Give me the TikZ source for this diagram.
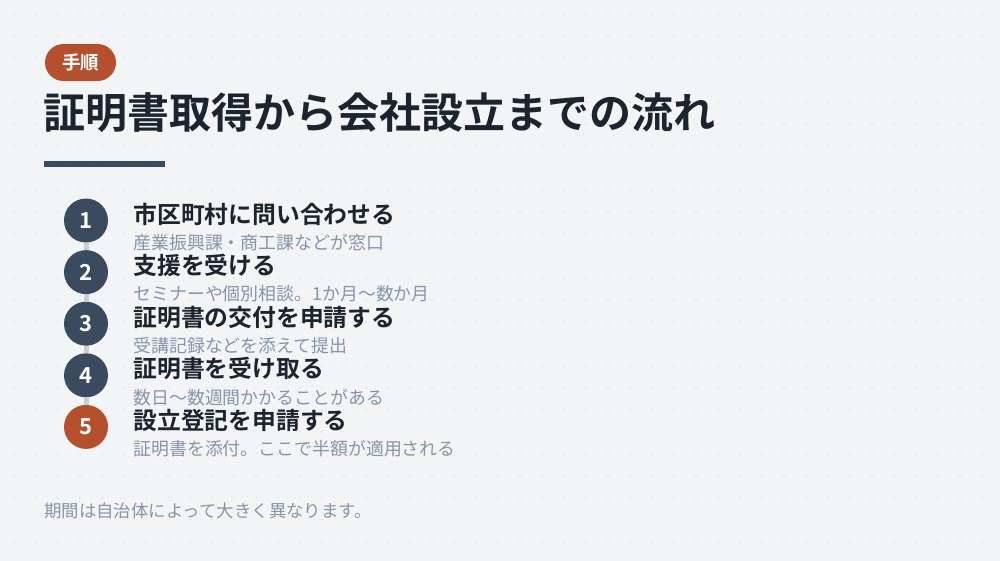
\documentclass[tikz,border=0pt]{standalone}
\usepackage{fontspec}
\setmainfont{Noto Sans CJK JP}[BoldFont={Noto Sans CJK JP Bold}]
\usetikzlibrary{positioning}
\usepackage{xcolor}
\definecolor{bgcol}{HTML}{F3F4F6}
\definecolor{dotcol}{HTML}{D8DCE1}
\definecolor{ink}{HTML}{1C2430}
\definecolor{slate}{HTML}{3A4A5F}
\definecolor{rust}{HTML}{B4502E}
\definecolor{mute}{HTML}{8595AC}
\definecolor{linkcol}{HTML}{C9CED5}

\begin{document}
\begin{tikzpicture}[x=1pt, y=-1pt,
	num/.style = {circle, fill=slate, text=white, minimum size=44pt, inner sep=0pt, font=\bfseries\fontsize{22}{24}\selectfont},
	head/.style = {anchor=west, inner sep=0pt, text=ink, font=\bfseries\fontsize{23.8}{28}\selectfont},
	desc/.style = {anchor=west, inner sep=0pt, text=mute, font=\fontsize{17.9}{21}\selectfont},
	link/.style = {draw=linkcol, line width=5pt}]
		\useasboundingbox (0,0) rectangle (1000,560);
		\fill[bgcol] (-1,-1) rectangle (1001,561);
		\foreach \i in {0,...,44}
			\foreach \j in {0,...,24}
				\fill[dotcol] (14+22*\i, 14+22*\j) circle (0.8pt);
		% header
		\node[fill=rust, text=white, minimum width=71pt, minimum height=37pt, inner sep=0pt, rounded corners=18.5pt, font=\bfseries\fontsize{18.5}{22}\selectfont] (tag) at (80.5,62.5) {手順};
		\node[anchor=west, inner sep=0pt, text=ink, font=\bfseries\fontsize{42}{50}\selectfont] (title) at (43,113) {証明書取得から会社設立までの流れ};
		\fill[slate] (44,161) rectangle (165,167);
		% steps
		\node[num] (1) at (86,220.5) {1};
		\node[num] (2) [below=7.2pt of 1] {2};
		\node[num] (3) [below=7.2pt of 2] {3};
		\node[num] (4) [below=7.2pt of 3] {4};
		\node[num, fill=rust] (5) [below=7.2pt of 4] {5};
		\draw[link] (1.south) -- (2.north);
		\draw[link] (2.south) -- (3.north);
		\draw[link] (3.south) -- (4.north);
		\draw[link] (4.south) -- (5.north);
		\node[head] (t1) [right=25pt of 1, yshift=6.5pt] {市区町村に問い合わせる};
		\node[desc] (d1) [right=25pt of 1, yshift=-22pt] {産業振興課・商工課などが窓口};
		\node[head] (t2) [right=25pt of 2, yshift=6.5pt] {支援を受ける};
		\node[desc] (d2) [right=25pt of 2, yshift=-22pt] {セミナーや個別相談。1か月〜数か月};
		\node[head] (t3) [right=25pt of 3, yshift=6.5pt] {証明書の交付を申請する};
		\node[desc] (d3) [right=25pt of 3, yshift=-22pt] {受講記録などを添えて提出};
		\node[head] (t4) [right=25pt of 4, yshift=6.5pt] {証明書を受け取る};
		\node[desc] (d4) [right=25pt of 4, yshift=-22pt] {数日〜数週間かかることがある};
		\node[head] (t5) [right=25pt of 5, yshift=6.5pt] {設立登記を申請する};
		\node[desc] (d5) [right=25pt of 5, yshift=-22pt] {証明書を添付。ここで半額が適用される};
		% note
		\node[desc, font=\fontsize{17.4}{21}\selectfont] (note) at (44,511) {期間は自治体によって大きく異なります。};
	\end{tikzpicture}
\end{document}
